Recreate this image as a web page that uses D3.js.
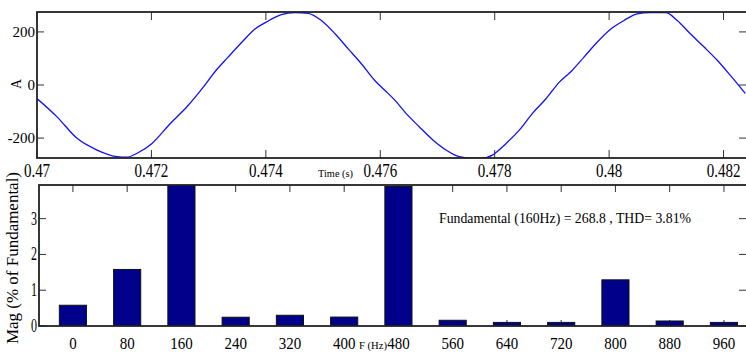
<!DOCTYPE html>
<html>
<head>
<meta charset="utf-8">
<script src="https://cdn.jsdelivr.net/npm/d3@7"></script>
<style>
  body { margin: 0; background: #fff; }
  svg { display: block; font-family: "Liberation Serif", "DejaVu Serif", serif; }
</style>
</head>
<body>
<div id="chart"></div>
<script>
// current waveform (time in s, current in A)
var timeS = [0.47000, 0.47035, 0.47070, 0.47105, 0.47140, 0.47157, 0.47175, 0.47201, 0.47233, 0.47262,
             0.47291, 0.47311, 0.47334, 0.47358, 0.47381, 0.47400, 0.47427, 0.47451, 0.47474, 0.47497,
             0.47521, 0.47544, 0.47567, 0.47590, 0.47608, 0.47625, 0.47645, 0.47668, 0.47692, 0.47715,
             0.47738, 0.47762, 0.47779, 0.47796, 0.47820, 0.47843, 0.47866, 0.47890, 0.47913, 0.47934,
             0.47956, 0.47979, 0.48003, 0.48026, 0.48049, 0.48072, 0.48099, 0.48119, 0.48142, 0.48166,
             0.48189, 0.48212, 0.48238];
var currentA = [-51, -120, -201, -245, -270, -272, -257, -220, -145, -82,
                -7, 50, 105, 161, 211, 236, 265, 273, 270, 243,
                193, 136, 80, 18, -20, -56, -107, -157, -207, -245,
                -270, -276, -275, -264, -220, -170, -107, -51, 11, 52,
                105, 161, 211, 243, 268, 273, 273, 243, 193, 143,
                93, 36, -32];

// harmonic spectrum
var freqHz = [0, 80, 160, 240, 320, 400, 480, 560, 640, 720, 800, 880, 960];
var magPct = [0.58, 1.58, 100, 0.245, 0.30, 0.25, 3.90, 0.16, 0.10, 0.10, 1.29, 0.14, 0.10];

var timeTicks = [0.47, 0.472, 0.474, 0.476, 0.478, 0.48, 0.482];
var ampTicks = [-200, 0, 200];
var magTicks = [0, 1, 2, 3];

var width = 746, height = 353;

var svg = d3.select("#chart").append("svg")
    .attr("width", width)
    .attr("height", height);

// ticks pointing inward on any side
function tickMarks(g, scale, vals, orient, pos, len) {
  vals.forEach(function(v) {
    var p = scale(v);
    var l = g.append("line").attr("stroke", "#333").attr("stroke-width", 1);
    if (orient === "bottom") l.attr("x1", p).attr("x2", p).attr("y1", pos).attr("y2", pos - len);
    if (orient === "top") l.attr("x1", p).attr("x2", p).attr("y1", pos).attr("y2", pos + len);
    if (orient === "left") l.attr("y1", p).attr("y2", p).attr("x1", pos).attr("x2", pos + len);
    if (orient === "right") l.attr("y1", p).attr("y2", p).attr("x1", pos).attr("x2", pos - len);
  });
}

// ---------- top: time waveform ----------
var wave = { l: 37, r: 747, t: 12, b: 158 };

var x1 = d3.scaleLinear().domain([0.47, 0.48241]).range([wave.l, wave.r]);
var y1 = d3.scaleLinear().domain([-275, 275]).range([wave.b, wave.t]);

svg.append("clipPath").attr("id", "clipTop")
  .append("rect")
    .attr("x", wave.l).attr("y", wave.t)
    .attr("width", wave.r - wave.l).attr("height", wave.b - wave.t);

var line = d3.line()
    .x(function(d, i) { return x1(timeS[i]); })
    .y(function(d) { return y1(d); })
    .curve(d3.curveMonotoneX);

var gTop = svg.append("g");

tickMarks(gTop, x1, timeTicks, "bottom", wave.b, 8);
tickMarks(gTop, x1, timeTicks, "top", wave.t, 8);
tickMarks(gTop, y1, ampTicks, "left", wave.l, 7);
tickMarks(gTop, y1, ampTicks, "right", wave.r - 1, 7);

gTop.append("path")
    .datum(currentA)
    .attr("clip-path", "url(#clipTop)")
    .attr("d", line)
    .attr("fill", "none")
    .attr("stroke", "#1010ff")
    .attr("stroke-width", 1.3);

gTop.append("rect")
    .attr("x", wave.l).attr("y", wave.t)
    .attr("width", wave.r - wave.l).attr("height", wave.b - wave.t)
    .attr("fill", "none").attr("stroke", "#222").attr("stroke-width", 1.8);

gTop.selectAll(".tx")
  .data(timeTicks)
  .enter().append("text")
    .attr("transform", function(d) { return "translate(" + x1(d) + ",177) scale(1,1.3)"; })
    .attr("text-anchor", "middle")
    .attr("font-size", 15)
    .text(function(d) { return d3.format("")(d); });

gTop.selectAll(".ty")
  .data(ampTicks)
  .enter().append("text")
    .attr("x", wave.l - 2)
    .attr("y", function(d) { return y1(d) + 5; })
    .attr("text-anchor", "end")
    .attr("font-size", 15)
    .text(function(d) { return d; });

gTop.append("text")
    .attr("transform", "translate(21,84) rotate(-90)")
    .attr("text-anchor", "middle")
    .attr("font-size", 14)
    .text("A");

gTop.append("text")
    .attr("x", 318).attr("y", 177)
    .attr("font-size", 11)
    .attr("textLength", 35)
    .attr("lengthAdjust", "spacingAndGlyphs")
    .text("Time (s)");

// ---------- bottom: harmonic spectrum ----------
var spec = { l: 39, r: 747, t: 185, b: 326 };

var x2 = d3.scaleLinear().domain([-50, 994]).range([spec.l, spec.r]);
var y2 = d3.scaleLinear().domain([0, 3.94]).range([spec.b, spec.t]);
var barW = x2(40) - x2(0);

svg.append("clipPath").attr("id", "clipBot")
  .append("rect")
    .attr("x", spec.l).attr("y", spec.t)
    .attr("width", spec.r - spec.l).attr("height", spec.b - spec.t);

var gBot = svg.append("g");

tickMarks(gBot, x2, freqHz, "bottom", spec.b, 6);
tickMarks(gBot, x2, freqHz, "top", spec.t, 7);
tickMarks(gBot, y2, magTicks, "left", spec.l, 7);
tickMarks(gBot, y2, magTicks, "right", spec.r - 1, 7);

gBot.append("g")
    .attr("clip-path", "url(#clipBot)")
  .selectAll("rect")
  .data(magPct)
  .enter().append("rect")
    .attr("x", function(d, i) { return x2(freqHz[i]) - barW / 2; })
    .attr("y", function(d) { return y2(d); })
    .attr("width", barW)
    .attr("height", function(d) { return spec.b - y2(d); })
    .attr("fill", "#00008b")
    .attr("stroke", "#111")
    .attr("stroke-width", 1);

gBot.append("rect")
    .attr("x", spec.l).attr("y", spec.t)
    .attr("width", spec.r - spec.l).attr("height", spec.b - spec.t)
    .attr("fill", "none").attr("stroke", "#222").attr("stroke-width", 1.8);

gBot.selectAll(".fx")
  .data(freqHz)
  .enter().append("text")
    .attr("transform", function(d) { return "translate(" + x2(d) + ",349) scale(1,1.15)"; })
    .attr("text-anchor", "middle")
    .attr("font-size", 15)
    .text(function(d) { return d; });

gBot.selectAll(".my")
  .data(magTicks)
  .enter().append("text")
    .attr("transform", function(d) { return "translate(" + (spec.l - 2) + "," + (y2(d) + 6) + ") scale(0.8,1.3)"; })
    .attr("text-anchor", "end")
    .attr("font-size", 15)
    .text(function(d) { return d; });

gBot.append("text")
    .attr("transform", "translate(18,258) rotate(-90)")
    .attr("text-anchor", "middle")
    .attr("font-size", 16)
    .attr("textLength", 172)
    .attr("lengthAdjust", "spacingAndGlyphs")
    .text("Mag (% of Fundamental)");

gBot.append("text")
    .attr("x", 359).attr("y", 349)
    .attr("font-size", 11)
    .attr("textLength", 28)
    .attr("lengthAdjust", "spacingAndGlyphs")
    .text("F (Hz)");

gBot.append("text")
    .attr("x", 439).attr("y", 223)
    .attr("font-size", 15)
    .attr("textLength", 252)
    .attr("lengthAdjust", "spacingAndGlyphs")
    .text("Fundamental (160Hz) = 268.8 , THD= 3.81%");
</script>
</body>
</html>
